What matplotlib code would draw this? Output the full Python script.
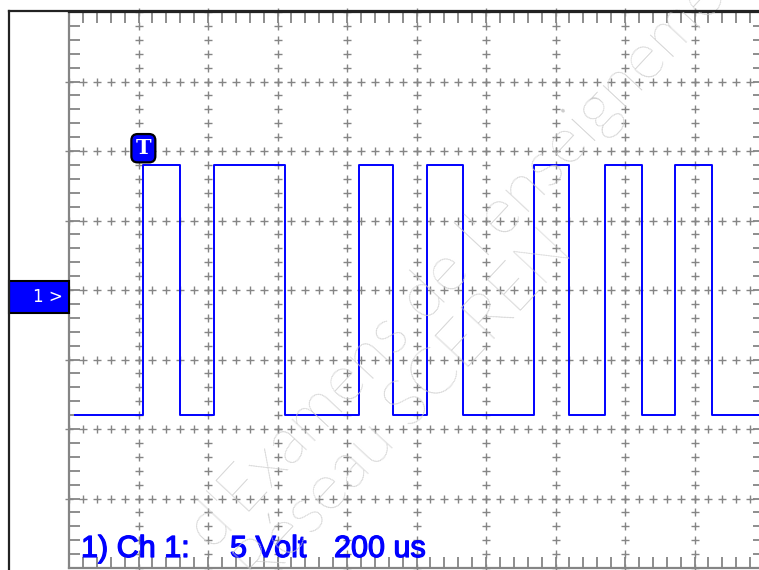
import numpy as np
import matplotlib.pyplot as plt
import matplotlib.patheffects as pe
from matplotlib.lines import Line2D
from matplotlib.patches import Rectangle

# Scope settings (per division)
volts_per_div = 5
time_per_div = 200  # us
n_div_x = 10
n_div_y = 8

# Trace: start time, edge times (us), the two levels (V)
trace_start = 17
edge_times = [214, 319, 418, 622, 835, 933, 1031, 1135, 1338, 1440, 1542, 1648, 1744, 1850]
trace_end = 2000
low_level = -9.0
high_level = 9.0
first_level = low_level

# Trigger marker
trigger_time = 214
trigger_level = 10.2

channel_label = "1) Ch 1:"
volt_label = f"{volts_per_div} Volt"
time_label = f"{time_per_div} us"

W, H = 759, 570
GRAY = '#858585'
BLUE = '#0000ff'


def fx(px):
    return px / W


def fy(py):
    return 1 - py / H


fig = plt.figure(figsize=(W / 100, H / 100), dpi=100)

# plot area (10 x 8 divisions, cropped on the right by the screenshot)
ax_left, ax_top, div_px = 69, 12, 69.5
ax_w = n_div_x * div_px
ax = fig.add_axes([fx(ax_left), fy(ax_top + n_div_y * div_px), ax_w / W, n_div_y * div_px / H])
xmax = n_div_x * time_per_div
ymax = n_div_y / 2 * volts_per_div
ax.set_xlim(0, xmax)
ax.set_ylim(-ymax, ymax)

# dotted "+" graticule
sub_x = time_per_div / 5
sub_y = volts_per_div / 5
xs_fine = np.arange(0, xmax + 0.1, sub_x)
ys_fine = np.arange(-ymax, ymax + 0.1, sub_y)
for k in range(1, n_div_x):
    ax.plot(np.full_like(ys_fine, k * time_per_div), ys_fine, ls='none', marker='+',
            ms=5.5, mew=1.0, color=GRAY, zorder=1, clip_on=False)
for k in range(1, n_div_y):
    yv = -ymax + k * volts_per_div
    ax.plot(xs_fine, np.full_like(xs_fine, yv), ls='none', marker='+',
            ms=5.5, mew=1.0, color=GRAY, zorder=1, clip_on=False)

# edge ticks every 1/5 division
ax.set_xticks(xs_fine)
ax.set_yticks(ys_fine)
ax.tick_params(axis='both', which='major', direction='in', length=8, width=1.3,
               color=GRAY, labelleft=False, labelbottom=False,
               top=True, right=True, bottom=True, left=True)
for side in ['left', 'right', 'bottom']:
    ax.spines[side].set_color(GRAY)
    ax.spines[side].set_linewidth(1.6)
ax.spines['top'].set_color('#222222')
ax.spines['top'].set_linewidth(1.6)

# the signal
times = [trace_start] + edge_times + [trace_end]
levels = []
lvl = first_level
for _ in range(len(times)):
    levels.append(lvl)
    lvl = high_level if lvl == low_level else low_level
ax.step(times, levels, where='post', color=BLUE, lw=1.4, zorder=3)

# trigger marker
ax.text(trigger_time, trigger_level, 'T', color='white', fontsize=15, fontweight='bold',
        family='DejaVu Serif', ha='center', va='center', zorder=5,
        bbox=dict(boxstyle='round,pad=0.2,rounding_size=0.3', fc=BLUE, ec='black', lw=1.6))

# bottom status text (x positions in screen px), slightly heavy like the scope font
base_y = 1 - (557 - ax_top) / (n_div_y * div_px)
for label, xpx in [(channel_label, 81), (volt_label, 230), (time_label, 334)]:
    ax.text((xpx - ax_left) / ax_w, base_y, label, transform=ax.transAxes, color=BLUE,
            fontsize=22, family='Liberation Sans', va='baseline', zorder=6,
            path_effects=[pe.withStroke(linewidth=0.9, foreground=BLUE)])

# outer window frame
fig.add_artist(Line2D([fx(9), fx(9)], [fy(11), 0], color='#222222', lw=1.6))
fig.add_artist(Line2D([fx(9), 1], [fy(11), fy(11)], color='#222222', lw=1.6))

# channel 1 ground marker
fig.add_artist(Rectangle((fx(9), fy(313)), fx(60), 32 / H, fc=BLUE, ec='black', lw=1.5))
fig.text(fx(63), fy(297), '1 >', color='white', fontsize=12, family='DejaVu Sans',
         ha='right', va='center')

# faint watermark
wm = dict(rotation=47, rotation_mode='anchor', ha='left', va='baseline', fontsize=47,
          color='#cdcdcd', family='Lato', fontweight='light', zorder=0.5)
fig.text(fx(212), fy(552), "d'Examens de l'enseignement professionnel", **wm)
fig.text(fx(262), fy(590), "Réseau SCEREN", **wm)

fig.savefig('out.png', dpi=100)
